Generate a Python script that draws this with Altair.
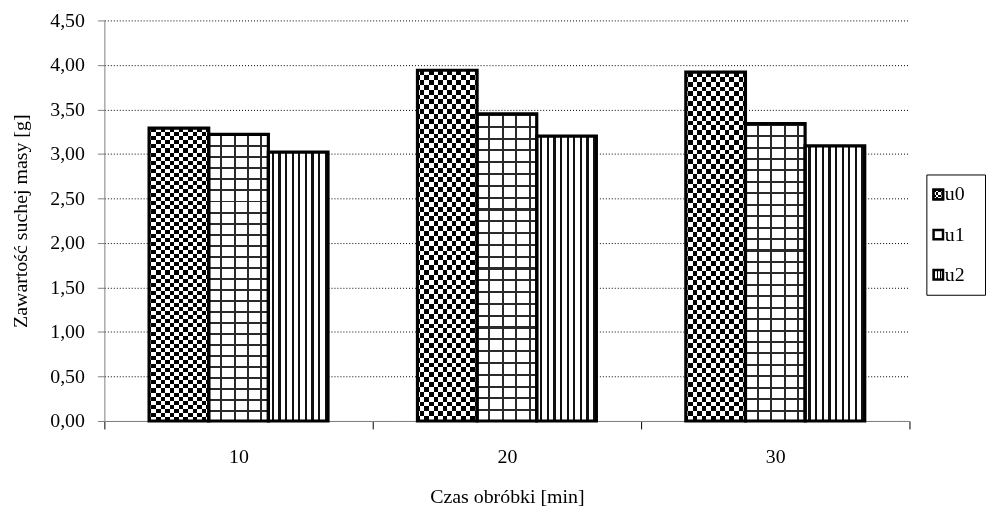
import math
import altair as alt
import pandas as pd

# ---------------- data ----------------
categories = ["10", "20", "30"]
series = ["u0", "u1", "u2"]
u0_values = [3.29, 3.94, 3.92]
u1_values = [3.22, 3.45, 3.34]
u2_values = [3.02, 3.20, 3.09]
y_tick_values = [0.0, 0.5, 1.0, 1.5, 2.0, 2.5, 3.0, 3.5, 4.0, 4.5]

rows = []
for s, vals in zip(series, [u0_values, u1_values, u2_values]):
    for c, v in zip(categories, vals):
        rows.append({"czas": c, "seria": s, "wartosc": v})
df = pd.DataFrame(rows)

FONT = "Liberation Serif"


# ---------------- hatch patterns as sharp-stop gradients ----------------
def stripe_gradient(count, ink_share, ink, paper, across="x", phase=0.0):
    """Linear gradient with hard stops = repeating stripes (a fill style)."""
    stops = []
    i = -1
    while True:
        start = (i + phase) / count
        if start >= 1:
            break
        mid = (i + phase + ink_share) / count
        end = (i + 1 + phase) / count
        for a, b, col in [(start, mid, ink), (mid, end, paper)]:
            a2 = max(0.0, min(1.0, a))
            b2 = max(0.0, min(1.0, b))
            if b2 > a2:
                stops.append({"offset": round(a2, 5), "color": col})
                stops.append({"offset": round(b2, 5), "color": col})
        i += 1
    return {
        "gradient": "linear",
        "x1": 0, "y1": 0,
        "x2": 1 if across == "x" else 0,
        "y2": 0 if across == "x" else 1,
        "stops": stops,
    }


CLEAR = "rgba(255,255,255,0)"

# ---------------- main chart ----------------
x_enc = alt.X(
    "czas:N",
    sort=categories,
    scale=alt.Scale(paddingInner=0, paddingOuter=0),
    axis=alt.Axis(
        title="Czas obróbki [min]",
        labelAngle=0,
        tickBand="extent",
        tickSize=8,
        tickColor="#000000",
        domainColor="#808080",
        labelPadding=18,
        titlePadding=20,
        grid=False,
    ),
)
xoff_enc = alt.XOffset(
    "seria:N",
    scale=alt.Scale(domain=series, paddingInner=0, paddingOuter=0.75),
)
y_enc = alt.Y(
    "wartosc:Q",
    scale=alt.Scale(domain=[0, 4.5], nice=False, zero=True),
    axis=alt.Axis(
        title="Zawartość suchej masy [g]",
        values=y_tick_values,
        labelExpr="replace(format(datum.value, '.2f'), '.', ',')",
        grid=True,
        gridDash=[1, 2],
        gridColor="#000000",
        gridWidth=1,
        domainColor="#808080",
        tickColor="#808080",
        tickSize=7,
        labelPadding=13,
        titlePadding=19,
    ),
)

base = alt.Chart(df).encode(x=x_enc, xOffset=xoff_enc, y=y_enc)

u0_a = base.transform_filter(alt.datum.seria == "u0").mark_bar(
    fill=stripe_gradient(6.5, 0.5, "#000000", "#ffffff", across="x", phase=0.25)
)
u0_b = base.transform_filter(alt.datum.seria == "u0").mark_bar(
    fill=stripe_gradient(36, 0.5, "#000000", "#ffffff", across="y"),
    blend="difference",
)
u1_a = base.transform_filter(alt.datum.seria == "u1").mark_bar(
    fill=stripe_gradient(4.45, 0.15, "#2a2a2a", "#ffffff", across="x", phase=0.85)
)
u1_b = base.transform_filter(alt.datum.seria == "u1").mark_bar(
    fill=stripe_gradient(26, 0.18, "#2a2a2a", CLEAR, across="y")
)
u2_a = base.transform_filter(alt.datum.seria == "u2").mark_bar(
    fill=stripe_gradient(9, 0.34, "#111111", "#ffffff", across="x", phase=0.5)
)
outline = base.mark_bar(fill="transparent", stroke="#000000", strokeWidth=3.2)

main = alt.layer(u0_a, u0_b, u1_a, u1_b, u2_a, outline).properties(
    width=810, height=403
)

# ---------------- legend (its own small panel) ----------------
leg_df = pd.DataFrame({"seria": series})
leg_y = alt.Y(
    "seria:N",
    sort=series,
    scale=alt.Scale(domain=series, type="point", padding=0.5),
    axis=None,
)
leg_base = alt.Chart(leg_df).encode(y=leg_y, x=alt.value(12))

sym_kw = dict(shape="square", size=90, stroke="#000000", strokeWidth=2.5, opacity=1)
leg_u0a = leg_base.transform_filter(alt.datum.seria == "u0").mark_point(
    filled=True, fill=stripe_gradient(2, 0.5, "#000000", "#ffffff", across="x"), **sym_kw
)
leg_u0b = leg_base.transform_filter(alt.datum.seria == "u0").mark_point(
    filled=True, fill=stripe_gradient(2, 0.5, "#000000", "#ffffff", across="y"),
    blend="difference", shape="square", size=90, strokeOpacity=0, opacity=1
)
leg_u1 = leg_base.transform_filter(alt.datum.seria == "u1").mark_point(
    filled=True, fill="#ffffff", **sym_kw
)
leg_u2 = leg_base.transform_filter(alt.datum.seria == "u2").mark_point(
    filled=True, fill=stripe_gradient(3, 0.45, "#000000", "#ffffff", across="x"), **sym_kw
)
leg_u0_border = leg_base.transform_filter(alt.datum.seria == "u0").mark_point(
    filled=False, **sym_kw
)
leg_text = alt.Chart(leg_df).mark_text(
    align="left", baseline="middle", font=FONT, fontSize=20, color="#000000"
).encode(y=leg_y, x=alt.value(18.5), text="seria:N")

legend_panel = alt.layer(leg_u0a, leg_u0b, leg_u0_border, leg_u1, leg_u2, leg_text).properties(
    width=59, height=121,
    view=alt.ViewBackground(stroke="#000000", strokeWidth=1),
)

spacer = alt.Chart(pd.DataFrame({"seria": ["u0"]})).mark_point(opacity=0).encode(
    x=alt.value(0), y=alt.value(0)
).properties(width=59, height=153)

chart = (
    alt.hconcat(main, alt.vconcat(spacer, legend_panel, spacing=0), spacing=12)
    .properties(padding={"left": 10, "top": 8, "right": 0, "bottom": 0})
    .configure(font=FONT)
    .configure_view(stroke="transparent")
    .configure_axis(
        labelFont=FONT,
        titleFont=FONT,
        labelFontSize=20,
        titleFontSize=20,
        titleFontWeight="normal",
        labelColor="#000000",
        titleColor="#000000",
    )
)

chart.save("out.html", embed_options={"renderer": "svg", "actions": False})
